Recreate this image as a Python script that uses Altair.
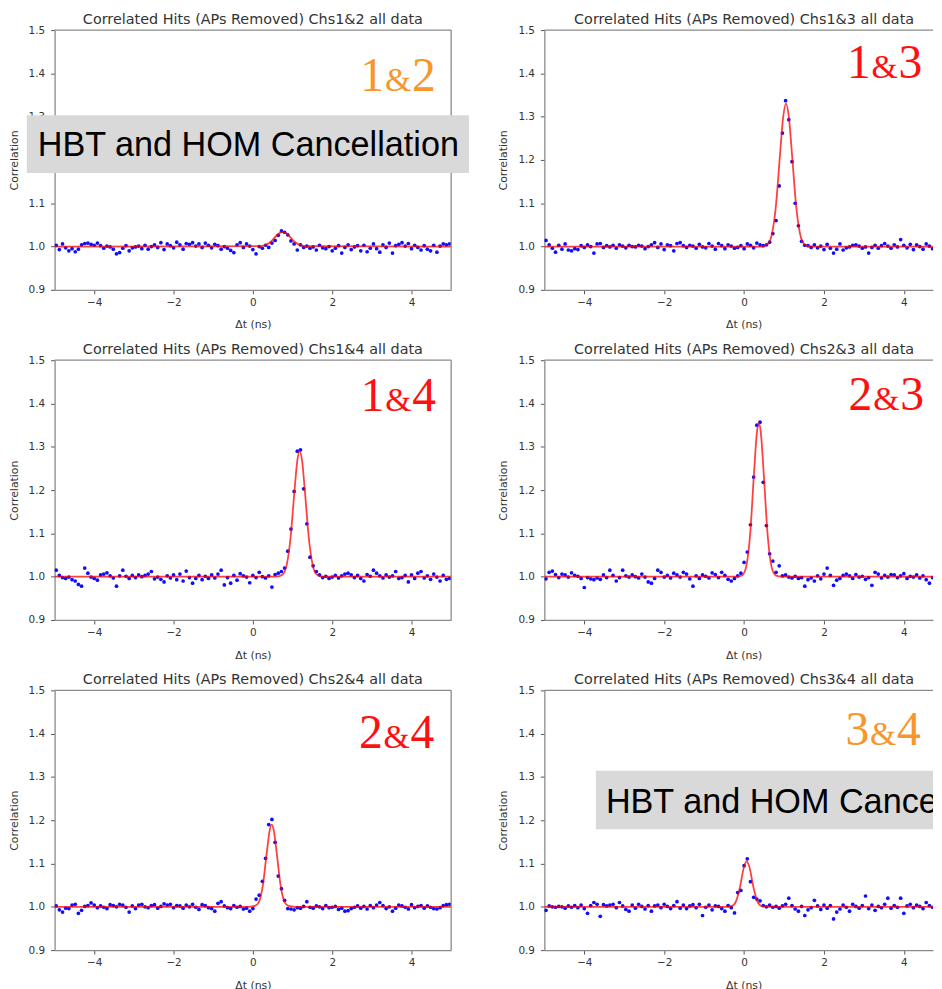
import altair as alt
import pandas as pd

# ---------------- data ----------------
BIN_START = -4.96
BIN_WIDTH = 0.08
N_BINS = 125
DT = [round(BIN_START + BIN_WIDTH * k, 2) for k in range(N_BINS)]

CORR_12 = [
    1.003, 0.993, 1.006, 0.997, 0.990, 0.995, 0.988, 0.994, 1.004, 1.007,
    1.008, 1.005, 1.003, 1.008, 1.002, 0.996, 1.001, 0.999, 0.994, 0.983,
    0.986, 0.996, 1.002, 0.990, 0.997, 0.999, 1.001, 0.995, 1.003, 0.994,
    1.000, 1.004, 0.998, 1.009, 0.993, 1.006, 1.002, 0.997, 1.010, 1.004,
    0.994, 1.007, 1.005, 1.009, 1.001, 1.006, 0.998, 1.008, 1.003, 0.997,
    1.005, 1.002, 0.994, 1.000, 0.996, 0.991, 0.986, 1.004, 1.009, 0.998,
    1.006, 1.001, 0.993, 0.983, 1.000, 0.996, 1.003, 0.998, 1.008, 1.014,
    1.026, 1.036, 1.033, 1.027, 1.013, 1.006, 0.992, 1.004, 0.998, 1.001,
    0.996, 0.999, 0.992, 1.003, 0.997, 0.995, 1.000, 0.990, 0.996, 1.002,
    0.985, 0.998, 1.004, 0.993, 0.999, 1.002, 0.990, 1.003, 0.988, 0.996,
    1.006, 0.995, 0.987, 1.004, 0.998, 1.008, 0.985, 1.002, 1.005, 1.009,
    1.001, 1.007, 0.995, 1.003, 0.998, 0.992, 1.002, 0.994, 0.990, 1.003,
    0.987, 1.001, 1.006, 1.004, 1.006,
]
CORR_13 = [
    1.014, 1.004, 0.996, 0.987, 1.003, 0.994, 1.006, 0.992, 0.990, 0.995,
    0.993, 1.002, 0.998, 1.004, 1.000, 0.985, 1.006, 1.007, 0.998, 1.002,
    0.999, 1.003, 0.996, 1.004, 1.001, 0.997, 1.003, 1.000, 0.999, 1.003,
    1.001, 0.995, 1.000, 1.004, 1.009, 0.998, 1.006, 0.993, 1.004, 1.002,
    0.990, 1.007, 1.009, 1.002, 0.998, 1.003, 1.001, 0.996, 1.005, 0.999,
    0.997, 1.007, 1.001, 0.994, 1.007, 1.002, 0.995, 1.004, 1.001, 0.996,
    0.998, 1.002, 0.995, 1.006, 1.003, 0.997, 1.008, 1.004, 1.002, 1.004,
    1.010, 1.030, 1.060, 1.140, 1.262, 1.337, 1.293, 1.196, 1.100, 1.048,
    1.012, 1.003,
    1.002, 0.998, 1.004, 0.997, 1.001, 0.993, 1.005, 0.996,
    0.985, 0.994, 1.006, 0.992, 0.997, 0.999, 1.003, 1.004, 1.001, 0.996,
    0.999, 0.985, 0.998, 1.003, 0.996, 1.002, 1.007, 1.001, 0.996, 1.004,
    0.999, 1.016, 1.003, 0.997, 1.005, 0.993, 1.004, 1.000, 0.994, 1.006,
    1.001, 0.995, 1.004, 0.998, 1.000,
]
CORR_14 = [
    1.015, 1.003, 0.998, 0.996, 0.999, 0.993, 0.990, 0.982, 0.978, 1.020,
    1.008, 0.999, 0.996, 0.992, 1.004, 1.006, 1.009, 1.002, 0.997, 0.978,
    1.002, 1.015, 1.001, 0.996, 1.003, 0.998, 1.004, 1.000, 1.003, 1.006,
    1.012, 0.995, 0.999, 0.994, 0.988, 1.002, 0.997, 1.004, 0.993, 1.006,
    0.990, 1.013, 0.998, 0.985, 0.996, 1.003, 0.993, 1.001, 0.996, 1.004,
    0.997, 1.006, 1.015, 0.981, 0.998, 0.985, 1.003, 0.992, 1.007, 1.002,
    0.999, 0.986, 1.003, 0.998, 1.010, 1.000, 0.997, 1.002, 0.976, 1.005,
    1.008, 1.012,
    1.020, 1.059, 1.110, 1.197, 1.290, 1.293, 1.203, 1.122, 1.045, 1.025, 1.012,
    1.004, 0.998, 1.001, 0.996, 0.999, 1.003, 0.997,
    1.002, 1.006, 1.008, 1.004, 0.998, 1.003, 0.996, 0.990, 1.005, 1.001,
    1.015, 1.008, 1.002, 0.997, 1.004, 0.999, 1.002, 1.012, 0.996, 0.998,
    1.003, 0.988, 1.004, 0.996, 1.008, 1.012, 0.997, 1.002, 0.994, 1.006,
    0.999, 0.990, 1.003, 0.994, 0.996,
]
CORR_23 = [
    0.995, 1.010, 1.013, 1.005, 0.998, 1.006, 1.004, 0.999, 1.009, 1.003,
    1.001, 0.996, 0.975, 0.998, 0.995, 0.993, 0.997, 0.994, 1.004, 0.998,
    1.015, 1.003, 0.990, 0.998, 1.015, 1.002, 0.999, 1.004, 1.000, 0.997,
    1.006, 0.999, 0.988, 0.985, 0.996, 1.015, 1.010, 0.999, 1.003, 0.997,
    1.008, 1.004, 0.999, 1.010, 1.006, 0.995, 0.978, 1.002, 0.996, 1.004,
    1.001, 0.997, 1.009, 1.005, 0.998, 1.010, 1.003, 0.994, 0.990, 0.996,
    1.002,
    1.008, 1.033, 1.057, 1.120, 1.230, 1.350, 1.357, 1.218, 1.118, 1.053, 1.036, 1.010,
    1.025, 1.002, 1.004, 0.999, 0.997, 1.001, 0.996,
    0.998, 0.978, 0.993, 0.997, 0.990, 1.002, 0.995, 1.006, 1.020, 1.003,
    0.980, 0.992, 0.996, 1.003, 1.006, 1.002, 0.996, 1.005, 0.999, 1.001,
    0.994, 0.998, 0.980, 1.010, 1.006, 0.997, 1.003, 0.999, 1.005, 1.004,
    0.998, 1.002, 1.007, 0.996, 1.001, 0.999, 1.004, 0.997, 1.002, 0.993,
    0.985, 0.998, 1.004, 0.996, 1.001,
]
CORR_24 = [
    1.002, 0.993, 0.988, 0.997, 0.996, 1.004, 1.006, 0.985, 0.992, 1.001,
    1.003, 1.009, 1.004, 0.998, 1.002, 0.999, 0.996, 1.005, 1.003, 1.000,
    1.006, 1.004, 0.999, 0.988, 1.002, 0.996, 1.004, 1.006, 1.000, 0.998,
    1.003, 1.005, 0.997, 1.001, 1.007, 1.004, 1.006, 0.998, 1.003, 1.002,
    0.997, 1.004, 1.000, 1.006, 0.999, 0.994, 1.005, 1.003, 0.998, 0.996,
    0.990, 1.008, 1.012, 1.002, 0.998, 0.996, 1.003, 0.999, 1.001, 0.995,
    0.997, 0.990, 0.996,
    1.018, 1.027, 1.059, 1.112, 1.190, 1.202, 1.149, 1.071, 1.042, 1.015, 0.996,
    0.995, 0.993, 0.998, 0.997, 1.001, 1.012,
    0.999, 0.997, 1.002, 1.000, 0.996, 1.003, 0.998, 0.999, 1.001, 0.994,
    0.997, 0.990, 0.991, 0.996, 0.999, 1.002, 0.997, 1.001, 0.995, 1.003,
    0.998, 1.004, 1.010, 1.003, 0.996, 1.000, 0.990, 0.997, 1.004, 1.002,
    0.999, 0.995, 1.005, 0.998, 1.001, 1.003, 0.997, 1.002, 0.999, 0.996,
    0.995, 0.998, 1.003, 1.005, 1.006,
]
CORR_34 = [
    0.992, 1.002, 1.000, 0.999, 1.001, 1.000, 0.997, 1.002, 0.999, 1.003,
    0.998, 1.004, 0.996, 0.985, 1.003, 1.010, 1.006, 0.978, 1.005, 1.002,
    1.004, 1.006, 0.998, 1.010, 1.002, 0.994, 0.990, 1.004, 0.997, 1.006,
    1.001, 0.995, 1.003, 0.990, 1.002, 1.004, 0.998, 1.006, 1.001, 0.996,
    1.003, 1.012, 0.997, 1.004, 0.996, 1.002, 1.005, 0.998, 1.006, 0.980,
    0.999, 1.004, 0.993, 1.002, 1.001, 0.996, 0.990, 1.003, 0.998,
    0.986, 1.033, 1.038, 1.095, 1.111, 1.058, 1.022, 1.018, 1.014, 1.003,
    1.000, 1.004, 0.999, 1.001, 0.997, 1.002, 1.006, 1.020, 1.003, 0.995, 0.990,
    1.001, 0.980, 0.993, 0.998, 1.015, 1.002, 0.994, 1.004, 0.997, 1.003,
    0.972, 0.988, 0.995, 1.004, 0.999, 0.990, 1.006, 1.001, 0.997, 1.003,
    1.025, 0.996, 1.004, 0.992, 1.001, 0.998, 1.006, 1.020, 0.997, 1.003,
    0.999, 1.020, 0.985, 1.002, 1.006, 0.998, 1.004, 1.001, 0.996, 1.010,
    1.003, 0.999, 1.015, 1.002, 1.006,
]

# fitted curves
FIT_12_X = [-5, 0.20, 0.35, 0.45, 0.55, 0.65, 0.75, 0.85, 0.95, 1.05, 1.15, 1.30, 5]
FIT_12_Y = [1.000, 1.001, 1.005, 1.011, 1.021, 1.030, 1.034, 1.030, 1.021, 1.011, 1.005, 1.001, 1.000]
FIT_13_X = [-5, 0.45, 0.60, 0.70, 0.80, 0.90, 0.98, 1.05, 1.12, 1.20, 1.30, 1.40, 1.50, 1.65, 5]
FIT_13_Y = [1.000, 1.000, 1.006, 1.030, 1.097, 1.213, 1.300, 1.330, 1.300, 1.213, 1.097, 1.030, 1.006, 1.000, 1.000]
FIT_14_X = [-5, 0.60, 0.75, 0.85, 0.95, 1.05, 1.12, 1.18, 1.24, 1.31, 1.41, 1.51, 1.61, 1.76, 5]
FIT_14_Y = [1.000, 1.000, 1.005, 1.026, 1.090, 1.199, 1.268, 1.290, 1.268, 1.199, 1.090, 1.026, 1.005, 1.000, 1.000]
FIT_23_X = [-5, -0.20, -0.05, 0.05, 0.15, 0.25, 0.32, 0.37, 0.42, 0.49, 0.59, 0.69, 0.79, 0.94, 5]
FIT_23_Y = [1.000, 1.000, 1.003, 1.022, 1.096, 1.241, 1.332, 1.355, 1.332, 1.241, 1.096, 1.022, 1.003, 1.000, 1.000]
FIT_24_X = [-5, -0.10, 0.05, 0.15, 0.25, 0.35, 0.42, 0.475, 0.53, 0.60, 0.70, 0.80, 0.90, 1.05, 5]
FIT_24_Y = [1.000, 1.000, 1.002, 1.011, 1.049, 1.125, 1.175, 1.190, 1.175, 1.125, 1.049, 1.011, 1.002, 1.000, 1.000]
FIT_34_X = [-5, -0.45, -0.30, -0.20, -0.10, 0.00, 0.065, 0.13, 0.23, 0.33, 0.43, 0.58, 5]
FIT_34_Y = [1.000, 1.000, 1.002, 1.013, 1.047, 1.093, 1.105, 1.093, 1.047, 1.013, 1.002, 1.000, 1.000]

TITLES = [
    "Correlated Hits (APs Removed) Chs1&2 all data",
    "Correlated Hits (APs Removed) Chs1&3 all data",
    "Correlated Hits (APs Removed) Chs1&4 all data",
    "Correlated Hits (APs Removed) Chs2&3 all data",
    "Correlated Hits (APs Removed) Chs2&4 all data",
    "Correlated Hits (APs Removed) Chs3&4 all data",
]
PAIRS = [("1", "2"), ("1", "3"), ("1", "4"), ("2", "3"), ("2", "4"), ("3", "4")]
SERIES = [CORR_12, CORR_13, CORR_14, CORR_23, CORR_24, CORR_34]
FITS = [(FIT_12_X, FIT_12_Y), (FIT_13_X, FIT_13_Y), (FIT_14_X, FIT_14_Y),
        (FIT_23_X, FIT_23_Y), (FIT_24_X, FIT_24_Y), (FIT_34_X, FIT_34_Y)]
X_TICKS = [-4, -2, 0, 2, 4]
Y_TICKS = [0.9, 1.0, 1.1, 1.2, 1.3, 1.4, 1.5]
BANNER = "HBT and HOM Cancellation"

# ---------------- styling / layout ----------------
ORANGE = "#F7962B"
RED = "#FF1010"
PAIR_COLORS = [ORANGE, RED, RED, RED, RED, ORANGE]
# anchor of the big pair label ("&" centre, baseline) in data coordinates
LABEL_POS = [(3.66, 1.360), (3.52, 1.390), (3.67, 1.383), (3.56, 1.386), (3.625, 1.366), (3.48, 1.374)]

SPINE = "#8a8a8a"
W_LEFT, W_RIGHT, H = 400, 392, 262
X_MAX_RIGHT = 4.73

# banner boxes: panel index -> (x, x2, y, y2, text_x, text_y)
BANNERS = {0: (-5.70, 5.45, 1.303, 1.170, -5.425, 1.209),
           5: (-3.71, X_MAX_RIGHT, 1.3145, 1.179, -3.46, 1.217)}

one = pd.DataFrame({"k": [0]})


def panel(i):
    col = i % 2
    xmax = 5 if col == 0 else X_MAX_RIGHT
    width = W_LEFT if col == 0 else W_RIGHT
    xs = alt.Scale(domain=[-5, xmax], nice=False, zero=False)
    ys = alt.Scale(domain=[0.9, 1.5], nice=False, zero=False)
    xaxis = alt.Axis(values=X_TICKS, title="\u0394t (ns)", grid=False, titlePadding=11,
                     titleX=(width / 2 if col == 0 else 201))
    yaxis = alt.Axis(values=Y_TICKS, format=".1f", title="Correlation", grid=False,
                     labelPadding=6, titlePadding=9)

    def X(v):
        return alt.XDatum(v, scale=xs, axis=xaxis)

    def Y(v):
        return alt.YDatum(v, scale=ys, axis=yaxis)

    df = pd.DataFrame({"dt": DT, "corr": SERIES[i]})
    fx, fy = FITS[i]
    fdf = pd.DataFrame({"dt": fx, "corr": fy})

    layers = []
    layers.append(alt.Chart(df).mark_circle(size=14, color="#0000FF", opacity=0.95, clip=True).encode(
        x=alt.X("dt:Q", scale=xs, axis=xaxis),
        y=alt.Y("corr:Q", scale=ys, axis=yaxis)))
    layers.append(alt.Chart(fdf).mark_line(color="#FF0000", strokeWidth=1.8, opacity=0.75,
                                           interpolate="monotone", clip=True).encode(
        x=alt.X("dt:Q", scale=xs, axis=xaxis),
        y=alt.Y("corr:Q", scale=ys, axis=yaxis)))
    # spines (top, and right for the left column)
    layers.append(alt.Chart(one).mark_rule(color=SPINE, strokeWidth=1.3).encode(
        x=X(-5), x2=alt.X2Datum(xmax), y=Y(1.5)))
    if col == 0:
        layers.append(alt.Chart(one).mark_rule(color=SPINE, strokeWidth=1.3).encode(
            x=X(5), y=Y(0.9), y2=alt.Y2Datum(1.5)))

    # panel title, centred over the full -5..5 range
    layers.append(alt.Chart(one).mark_text(
        text=TITLES[i], font="DejaVu Sans", fontSize=14.5, color="#333333",
        align="center", baseline="alphabetic", dy=-6).encode(x=X(0), y=Y(1.5)))

    # big pair label
    lx, ly = LABEL_POS[i]
    a, b = PAIRS[i]
    for txt, size, dx in [(a, 48, -26), ("&", 34, 0), (b, 48, 26)]:
        layers.append(alt.Chart(one).mark_text(
            text=txt, font="Liberation Serif", fontSize=size, color=PAIR_COLORS[i],
            align="center", baseline="alphabetic", dx=dx).encode(x=X(lx), y=Y(ly)))

    if i in BANNERS:
        bx, bx2, by, by2, tx, ty = BANNERS[i]
        clip = col == 1
        layers.append(alt.Chart(one).mark_rect(color="#D9D9D9", clip=clip).encode(
            x=X(bx), x2=alt.X2Datum(bx2), y=Y(by), y2=alt.Y2Datum(by2)))
        layers.append(alt.Chart(one).mark_text(
            text=BANNER, font="Liberation Sans", fontSize=34.5, color="#000000",
            align="left", baseline="alphabetic", clip=clip).encode(x=X(tx), y=Y(ty)))

    return alt.layer(*layers).properties(width=width, height=H)


chart = alt.concat(*[panel(i) for i in range(6)], columns=2, bounds="flush",
                   spacing={"row": 71, "column": 94}).properties(
    padding={"left": 0, "top": 0, "right": 0, "bottom": 0}
).configure_view(stroke=None).configure_axis(
    labelFont="DejaVu Sans", titleFont="DejaVu Sans", labelFontSize=10.5, titleFontSize=11,
    labelColor="#333333", titleColor="#333333", titleFontWeight="normal",
    tickColor="#555555", tickSize=4, labelPadding=4, titlePadding=5,
    domainColor=SPINE, domainWidth=1.3, grid=False
)

chart.save("out.html", embed_options={"renderer": "svg", "actions": False})
